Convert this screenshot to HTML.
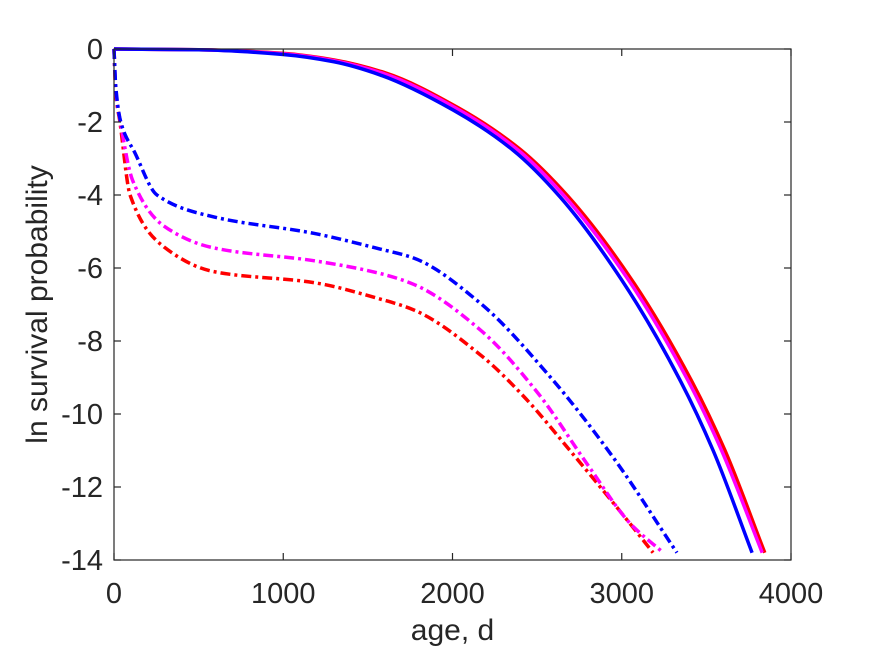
<!DOCTYPE html>
<html><head><meta charset="utf-8"><style>
body{margin:0;background:#fff;}
svg text{font-family:"Liberation Sans",Arial,sans-serif;fill:#262626;}
</style></head><body>
<svg width="875" height="656" xmlns="http://www.w3.org/2000/svg">
<g id="plot"></g>
</svg>
<script>
const xTicks=[0,1000,2000,3000,4000];
const yTicks=[0,-2,-4,-6,-8,-10,-12,-14];
const solidBlueX=[0,500,1000,1300,1572,2003,2357,2635,3000,3344,3540,3770];
const solidBlueY=[0,-0.02,-0.15,-0.35,-0.71,-1.67,-2.77,-4.05,-6.33,-9.07,-11.0,-13.8];
const solidMagX=[0,500,1000,1300,1590,2020,2385,2665,3040,3390,3590,3830];
const solidMagY=[0,-0.02,-0.13,-0.32,-0.67,-1.62,-2.76,-4.05,-6.33,-9.07,-11.0,-13.8];
const solidRedX=[0,500,1000,1300,1600,2030,2400,2685,3060,3410,3610,3845];
const solidRedY=[0,-0.02,-0.12,-0.3,-0.65,-1.6,-2.75,-4.05,-6.33,-9.07,-11.0,-13.8];
const dashBlueX=[0,10,40,124,254,590,1180,1572,1772,2163,2558,2948,3326];
const dashBlueY=[0,-1,-2,-2.85,-4.0,-4.6,-5.05,-5.48,-5.73,-6.96,-8.88,-11.18,-13.8];
const dashMagX=[0,10,38,110,295,590,1180,1572,1772,2165,2500,2800,3050,3245];
const dashMagY=[0,-1.1,-2,-3.6,-4.85,-5.45,-5.8,-6.15,-6.45,-7.7,-9.4,-11.4,-13.0,-13.8];
const dashRedX=[0,10,35,95,295,590,1180,1572,1772,2170,2417,2712,3031,3185];
const dashRedY=[0,-1.2,-2,-4,-5.42,-6.1,-6.4,-6.85,-7.15,-8.4,-9.5,-11.1,-12.9,-13.8];

const L=114,R=791,T=49,B=560;
const sx=v=>L+(v-0)/4000*(R-L);
const sy=v=>T+(0-v)/14*(B-T);
const NS="http://www.w3.org/2000/svg";
const g=document.getElementById('plot');
function mk(tag,attrs,parent){const e=document.createElementNS(NS,tag);for(const k in attrs)e.setAttribute(k,attrs[k]);(parent||g).appendChild(e);return e;}

const bg=mk('rect',{x:L,y:T,width:R-L,height:B-T,fill:'#fff'});



function path(xs,ys){
  const p=xs.map((x,i)=>[sx(x),sy(ys[i])]);
  const n=p.length,d=[],m=new Array(n);
  for(let i=0;i<n-1;i++)d.push((p[i+1][1]-p[i][1])/(p[i+1][0]-p[i][0]));
  m[0]=d[0];m[n-1]=d[n-2];
  for(let i=1;i<n-1;i++){
    if(d[i-1]*d[i]<=0)m[i]=0;
    else{const h0=p[i][0]-p[i-1][0],h1=p[i+1][0]-p[i][0];
      const w1=2*h1+h0,w2=h1+2*h0;m[i]=(w1+w2)/(w1/d[i-1]+w2/d[i]);}
  }
  let s='M'+p[0][0]+','+p[0][1];
  for(let i=0;i<n-1;i++){
    const h=(p[i+1][0]-p[i][0])/3;
    s+=' C'+(p[i][0]+h)+','+(p[i][1]+m[i]*h)+' '+(p[i+1][0]-h)+','+(p[i+1][1]-m[i+1]*h)+' '+p[i+1][0]+','+p[i+1][1];
  }
  return s;
}
const series=[
 [dashRedX,dashRedY,'#ff0000',true,'dashed-red-line'],
 [dashMagX,dashMagY,'#ff00ff',true,'dashed-magenta-line'],
 [dashBlueX,dashBlueY,'#0000ff',true,'dashed-blue-line'],
 [solidRedX,solidRedY,'#ff0000',false,'solid-red-line'],
 [solidMagX,solidMagY,'#ff00ff',false,'solid-magenta-line'],
 [solidBlueX,solidBlueY,'#0000ff',false,'solid-blue-line']];
series.forEach(s=>{
  const e=mk('path',{d:path(s[0],s[1]),fill:'none',stroke:s[2],'stroke-width':3.5});
  if(s[3])e.setAttribute('stroke-dasharray','10 4 3 4');
  
  
});

const box=mk('rect',{x:L,y:T,width:R-L,height:B-T,fill:'none',stroke:'#262626','stroke-width':1.2});



xTicks.forEach(v=>{
  const x=sx(v);
  mk('line',{x1:x,y1:B,x2:x,y2:B-7,stroke:'#262626','stroke-width':1.2});
  mk('line',{x1:x,y1:T,x2:x,y2:T+7,stroke:'#262626','stroke-width':1.2});
  const t=mk('text',{x:x,y:603,'text-anchor':'middle','font-size':29});
  t.textContent=v;
  
  
});
yTicks.forEach(v=>{
  const y=sy(v);
  mk('line',{x1:L,y1:y,x2:L+7,y2:y,stroke:'#262626','stroke-width':1.2});
  mk('line',{x1:R,y1:y,x2:R-7,y2:y,stroke:'#262626','stroke-width':1.2});
  const t=mk('text',{x:L-11,y:y+10,'text-anchor':'end','font-size':29});
  t.textContent=v;
  
  
});
const xl=mk('text',{x:(L+R)/2,y:640,'text-anchor':'middle','font-size':30});
xl.textContent='age, d';


const yl=mk('text',{x:0,y:0,'text-anchor':'middle','font-size':30,transform:'translate(47,'+((T+B)/2)+') rotate(-90)'});
yl.textContent='ln survival probability';


</script>
</body></html>
